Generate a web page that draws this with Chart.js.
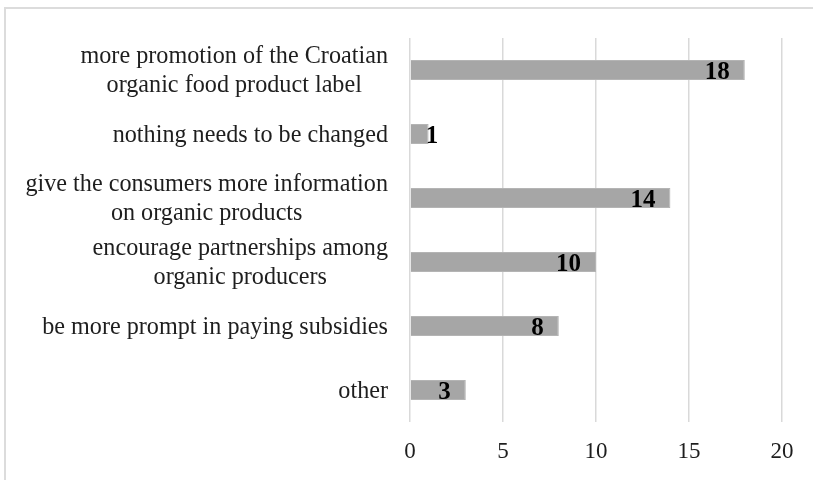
<!DOCTYPE html>
<html>
<head>
<meta charset="utf-8">
<script src="https://cdn.jsdelivr.net/npm/chart.js@4/dist/chart.umd.min.js"></script>
<style>
    html, body { margin: 0; padding: 0; background: #fff; overflow: hidden; }
    #wrap { position: relative; width: 813px; height: 480px; overflow: hidden; }
    #frame {
        position: absolute; left: 4px; top: 7px; width: 900px; height: 600px;
        border-left: 2px solid #dcdcdc; border-top: 2px solid #dcdcdc;
    }
    canvas { position: absolute; left: 0; top: 0; }
</style>
</head>
<body>
<div id="wrap">
    <div id="frame"></div>
    <canvas id="reporteChart" width="813" height="480"></canvas>
</div>
<script>
// Datos
const categorias = [
    ['more promotion of the Croatian', 'organic food product label'],
    'nothing needs to be changed',
    ['give the consumers more information', 'on organic products'],
    ['encourage partnerships among', 'organic producers'],
    'be more prompt in paying subsidies',
    'other'
];
const valores = [18, 1, 14, 10, 8, 3];
const ticksX = [0, 5, 10, 15, 20];

const fuente = '"Liberation Serif", "Times New Roman", serif';
const colorTexto = '#1e1e1e';
const estrechar = 0.93; // el texto original esta algo comprimido a lo ancho

// Etiquetas del eje Y: bloque alineado a la derecha, lineas centradas entre si
const etiquetasY = {
    id: 'etiquetasY',
    afterDraw(chart) {
        const c = chart.ctx;
        const y = chart.scales.y;
        const derecha = chart.chartArea.left - 22;
        const alto = 29;
        c.save();
        c.font = '26px ' + fuente;
        c.fillStyle = colorTexto;
        c.textAlign = 'center';
        c.textBaseline = 'middle';
        categorias.forEach((lab, i) => {
            const lineas = Array.isArray(lab) ? lab : [lab];
            const ancho = Math.max(...lineas.map(l => c.measureText(l).width)) * estrechar;
            const cx = derecha - ancho / 2;
            const cy = y.getPixelForTick(i) + 1;
            lineas.forEach((l, j) => {
                c.save();
                c.translate(cx, cy + (j - (lineas.length - 1) / 2) * alto);
                c.scale(estrechar, 1);
                c.fillText(l, 0, 0);
                c.restore();
            });
        });
        c.restore();
    }
};

// Valores dentro del extremo de cada barra
const valoresBarras = {
    id: 'valoresBarras',
    afterDatasetsDraw(chart) {
        const c = chart.ctx;
        const meta = chart.getDatasetMeta(0);
        c.save();
        c.font = 'bold 25px ' + fuente;
        c.fillStyle = '#000';
        c.textAlign = 'left';
        c.textBaseline = 'middle';
        meta.data.forEach((bar, i) => {
            const txt = String(valores[i]);
            const w = c.measureText(txt).width;
            let x = bar.x - 15 - w;
            if (x < bar.base + 15) x = bar.base + 15;
            c.fillText(txt, x, bar.y + 3);
        });
        c.restore();
    }
};

const ctx = document.getElementById('reporteChart').getContext('2d');
new Chart(ctx, {
    type: 'bar',
    data: {
        labels: categorias,
        datasets: [{
            data: valores,
            backgroundColor: '#a6a6a6',
            borderColor: '#b4b4b4',
            borderWidth: 1,
            barPercentage: 0.31,
            categoryPercentage: 1
        }]
    },
    options: {
        indexAxis: 'y',
        responsive: false,
        animation: false,
        layout: { padding: { top: 38, right: 31, left: 0, bottom: 0 } },
        plugins: {
            legend: { display: false },
            tooltip: { enabled: false }
        },
        scales: {
            x: {
                min: 0,
                max: 20,
                afterBuildTicks: scale => { scale.ticks = ticksX.map(v => ({ value: v })); },
                grid: { color: '#d9d9d9', lineWidth: 1.5, drawTicks: false },
                border: { display: false },
                ticks: {
                    padding: 16,
                    color: colorTexto,
                    font: { family: fuente, size: 23 }
                },
                afterFit: scale => { scale.height = 58; }
            },
            y: {
                grid: { display: false },
                border: { display: false },
                ticks: { display: false },
                afterFit: scale => { scale.width = 410; }
            }
        }
    },
    plugins: [etiquetasY, valoresBarras]
});
</script>
</body>
</html>
